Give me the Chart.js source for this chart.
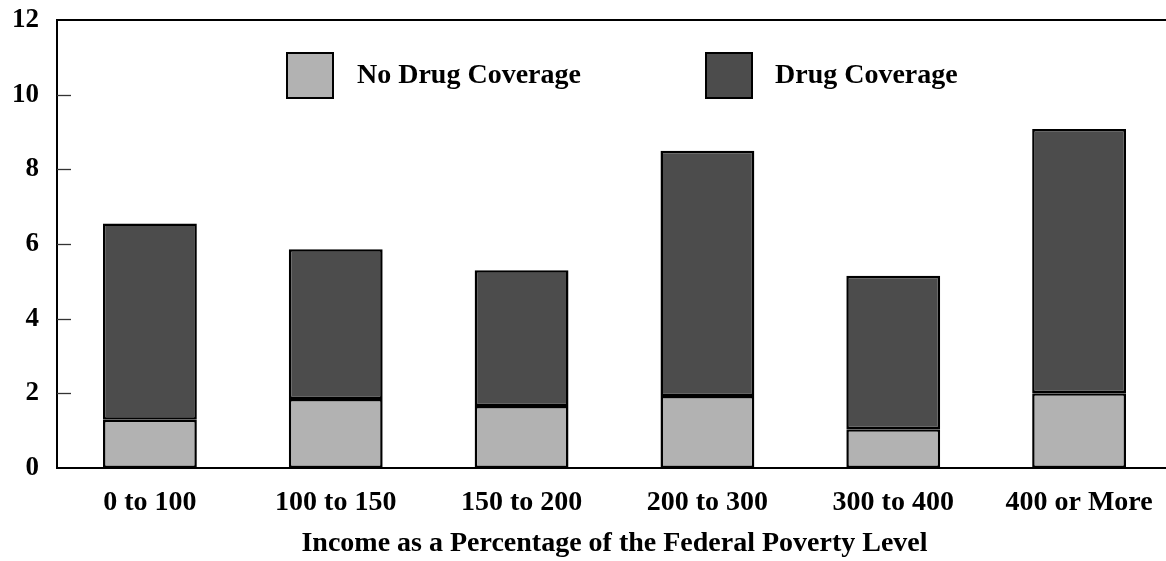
<!DOCTYPE html>
<html>
<head>
<meta charset="utf-8">
<script src="https://cdn.jsdelivr.net/npm/chart.js@4/dist/chart.umd.min.js"></script>
<style>
  html, body { margin: 0; padding: 0; background: #ffffff; overflow: hidden; }
  #wrap { position: relative; width: 1172px; height: 561px; }
</style>
</head>
<body>
<div id="wrap"><canvas id="c"></canvas></div>
<script>
const categories = ["0 to 100", "100 to 150", "150 to 200", "200 to 300", "300 to 400", "400 or More"];
const noDrugCoverage = [1.29, 1.85, 1.66, 1.93, 1.04, 2.00];
const drugCoverage = [5.26, 4.01, 3.64, 6.57, 4.11, 7.08];
const seriesNames = ["No Drug Coverage", "Drug Coverage"];
const yTicks = [0, 2, 4, 6, 8, 10, 12];
const xTitle = "Income as a Percentage of the Federal Poverty Level";

const FONT = "'Liberation Serif', 'Times New Roman', serif";
Chart.defaults.font.family = FONT;
Chart.defaults.color = "#000000";

const framePlugin = {
  id: "frame",
  afterDraw(chart) {
    const ctx = chart.ctx;
    const a = chart.chartArea;
    const y = chart.scales.y;
    ctx.save();
    ctx.strokeStyle = "#000000";
    ctx.lineWidth = 2;
    ctx.beginPath();
    ctx.moveTo(a.left - 1, a.top);
    ctx.lineTo(a.right, a.top);
    ctx.stroke();
    ctx.lineWidth = 1.3;
    ctx.strokeStyle = "#333333";
    yTicks.forEach(v => {
      if (v === y.min || v === y.max) return;
      const py = Math.round(y.getPixelForValue(v)) + 0.5;
      ctx.beginPath();
      ctx.moveTo(a.left, py);
      ctx.lineTo(a.left + 14, py);
      ctx.stroke();
    });
    // legend
    const items = [
      { box: 286, text: 357 },
      { box: 705, text: 775 }
    ];
    ctx.font = "bold 28px " + FONT;
    ctx.textBaseline = "middle";
    ctx.textAlign = "left";
    chart.data.datasets.forEach((ds, i) => {
      const it = items[i];
      ctx.fillStyle = ds.backgroundColor;
      ctx.fillRect(it.box, 52, 48, 47);
      ctx.lineWidth = 2;
      ctx.strokeStyle = "#000000";
      ctx.strokeRect(it.box + 1, 53, 46, 45);
      ctx.fillStyle = "#000000";
      ctx.fillText(ds.label, it.text, 76);
    });
    ctx.restore();
  }
};

new Chart(document.getElementById("c"), {
  type: "bar",
  data: {
    labels: categories,
    datasets: [
      {
        label: seriesNames[0],
        data: noDrugCoverage,
        backgroundColor: "#b2b2b2",
        borderColor: "#000000",
        borderWidth: 2.5,
        borderSkipped: false
      },
      {
        label: seriesNames[1],
        data: drugCoverage,
        backgroundColor: "#4c4c4c",
        borderColor: "#000000",
        borderWidth: 2.5,
        borderSkipped: false
      }
    ]
  },
  options: {
    responsive: true,
    maintainAspectRatio: false,
    animation: false,
    devicePixelRatio: 1,
    layout: { padding: { top: 20, left: 0, right: 0, bottom: 0 } },
    datasets: { bar: { categoryPercentage: 1.0, barPercentage: 0.505 } },
    plugins: {
      legend: { display: false },
      tooltip: { enabled: false },
      title: { display: false }
    },
    scales: {
      x: {
        stacked: true,
        grid: { display: false, drawTicks: false },
        border: { display: true, color: "#000000", width: 2 },
        ticks: {
          padding: 18,
          font: { size: 28, weight: "bold", family: FONT },
          color: "#000000",
          maxRotation: 0,
          autoSkip: false
        },
        title: {
          display: true,
          text: xTitle,
          font: { size: 28, weight: "bold", family: FONT },
          color: "#000000",
          padding: { top: 4, bottom: 0 }
        },
        afterFit(scale) { scale.height = 93; scale.paddingLeft = 0; scale.paddingRight = 0; }
      },
      y: {
        stacked: true,
        min: 0,
        max: 12,
        afterBuildTicks(scale) { scale.ticks = yTicks.map(v => ({ value: v })); },
        grid: { display: false, drawTicks: false },
        border: { display: true, color: "#000000", width: 2 },
        ticks: {
          padding: 18,
          font: { size: 27, weight: "bold", family: FONT },
          color: "#000000"
        },
        afterFit(scale) { scale.width = 57; scale.paddingTop = 0; scale.paddingBottom = 0; }
      }
    }
  },
  plugins: [framePlugin]
});
</script>
</body>
</html>
